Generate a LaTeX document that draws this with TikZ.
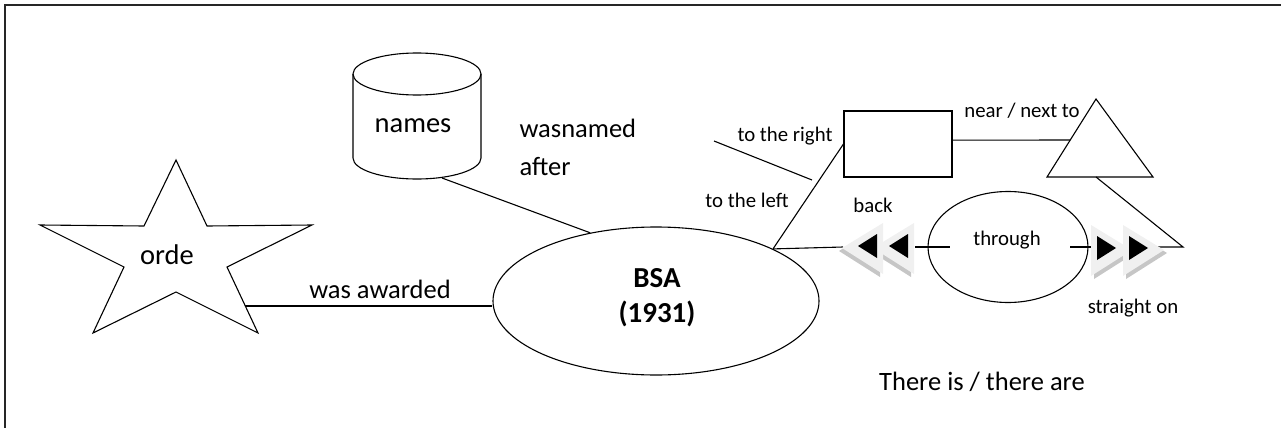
\documentclass[tikz,border=0pt]{standalone}
\usepackage{fontspec}
\setmainfont{Carlito}
\usetikzlibrary{shapes.geometric}
\begin{document}
\begin{tikzpicture}[x=1pt,y=-1pt, line width=1.1pt,
  shp/.style={draw, line width=1.1pt, inner sep=0pt},
  big/.style={inner sep=0pt, font=\fontsize{26.5}{30}\selectfont},
  bigger/.style={inner sep=0pt, font=\fontsize{28.5}{32}\selectfont},
  small/.style={inner sep=0pt, font=\fontsize{20.8}{24}\selectfont},
  ffhead/.pic={
    \fill[gray!45] (-3,-20) -- (38,5) -- (-3,31) -- cycle;
    \fill[gray!12] (-6,-23) -- (35,2) -- (-6,28) -- cycle;
    \fill[black] (0,-12) -- (19,0) -- (0,12) -- cycle;
  }]
\useasboundingbox (0,0) rectangle (1281,428);
% frame
\draw[line width=1.6pt, black!85] (1281,5) -- (5,5) -- (5,428);

% star
\draw[shp, line join=miter] (176,160) -- (207,226) -- (312,225) -- (227,267) -- (258,333) -- (176,292)
  -- (93,333) -- (124,267) -- (40,225) -- (144,226) -- cycle;
\node[bigger] (orde) at (167,255) {orde};
\coordinate (starpt) at (245,306);

% cylinder
\draw[shp] (417,74) ellipse [x radius=64pt, y radius=21pt];
\draw[shp] (353,74) -- (353,158) arc[start angle=180, end angle=360, x radius=64pt, y radius=21pt] -- (481,74);
\node[bigger] (names) at (413,126) {names};
\coordinate (cylbot) at (442,178);

% BSA ellipse
\node[shp, ellipse, minimum width=326pt, minimum height=148pt] (bsa) at (656,301) {};
\node[align=center, inner sep=0pt, font=\fontsize{29}{35}\selectfont\bfseries] (bsatxt) at (657,298) {BSA\\(1931)};

% rectangle
\node[shp, minimum width=108pt, minimum height=66pt] (rect) at (898,144) {};

% triangle
\coordinate (tA) at (1096,99);
\coordinate (tB) at (1047,177);
\coordinate (tC) at (1153,177);
\draw[shp, line join=miter] (tA) -- (tB) -- (tC) -- cycle;
\coordinate (tL) at (1070,140);
\coordinate (tbase) at (1096,177);
\coordinate (tcorner) at (1183,247);

% through ellipse
\node[shp, ellipse, minimum width=160pt, minimum height=111pt] (thr) at (1008,247) {};
\node[small] (through) at (1007,240) {through};

% connectors
\draw (starpt) -- (starpt -| bsa.west);
\draw (cylbot) -- (bsa.134);
\coordinate (la) at (843,247);
\draw (bsa.24) -- (la);
\draw (bsa.24) -- (rect.west);
\coordinate (rgtA) at (714,141);
\coordinate (rgtB) at (812,180);
\draw (rgtA) -- (rgtB);
\coordinate (lb) at (915,247);
\coordinate (thrL) at (950,247);
\draw (lb) -- (thrL);
\coordinate (thrR) at (1070,247);
\coordinate (ra) at (1098,247);
\draw (thrR) -- (ra);
\coordinate (rb) at (1158,247);
\draw (rb) -- (tcorner) -- (tbase);
\draw (rect.4) -- (tL);

% arrowheads
\pic[xscale=-1] at (908,246) {ffhead};
\pic[xscale=-1] at (877,246) {ffhead};
\pic at (1097,248) {ffhead};
\pic at (1129,248) {ffhead};

% labels
\node[big, anchor=west] (wn1) at (519,128) {wasnamed};
\node[big, anchor=west] (wn2) at (519,167) {after};
\node[big] (awd) at (380,289) {was awarded};
\node[small] (toright) at (785,136) {to the right};
\node[small] (toleft) at (747,200) {to the left};
\node[small] (back) at (873,205) {back};
\node[small] (near) at (1022,111) {near / next to};
\node[small] (straight) at (1133,308) {straight on};
\node[big] (there) at (982,382) {There is / there are};
\end{tikzpicture}
\end{document}
